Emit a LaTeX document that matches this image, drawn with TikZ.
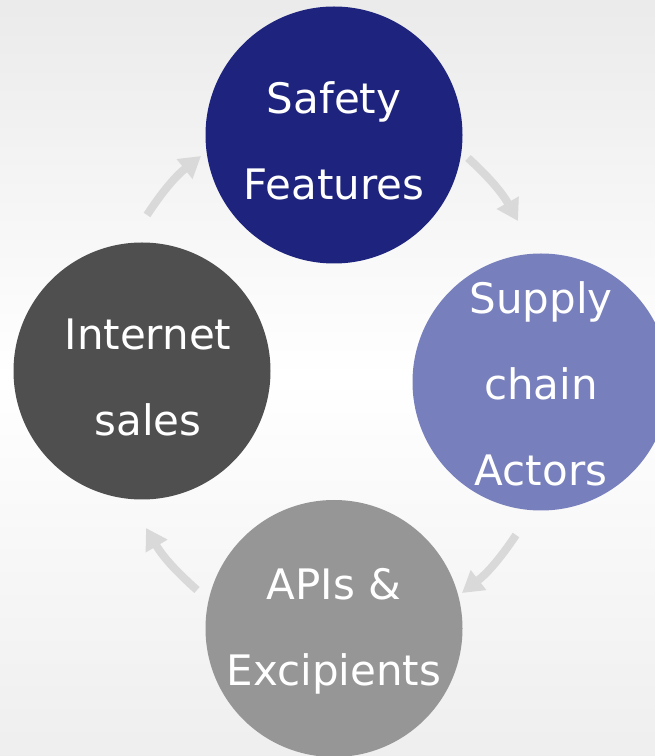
\documentclass[tikz,border=0pt]{standalone}
\usepackage{fontspec}
\setmainfont{DejaVu Sans}
\usetikzlibrary{arrows.meta,positioning}
\definecolor{navy}{HTML}{1E247D}
\definecolor{lavender}{HTML}{7780BC}
\definecolor{charcoal}{HTML}{4F4F4F}
\definecolor{midgray}{HTML}{969696}
\definecolor{arrowgray}{HTML}{D9D9D9}

\begin{document}
\begin{tikzpicture}[x=1pt,y=1pt,
    stage/.style={circle,minimum size=257pt,inner sep=0pt},
    caption/.style={text=white,align=center,inner sep=0pt,
      font=\fontsize{42}{86}\selectfont},
    cyc/.style={arrowgray,line width=8pt,-{Triangle[length=21pt,width=24pt]}}]
  % page: 655 x 756, light gray fading to white in the middle
  \useasboundingbox (0,0) rectangle (655,756);
  \shade[top color=gray!16,bottom color=white] (0,378) rectangle (655,756);
  \shade[top color=white,bottom color=gray!13] (0,0) rectangle (655,378);
  % the four stages, clockwise from the top
  \node[stage,fill=navy] (safety) at (334,621) {};
  \node[stage,fill=lavender] (supply) at (541,374) {};
  \node[stage,fill=midgray] (apis) at (334,127.5) {};
  \node[stage,fill=charcoal] (internet) at (142,385) {};
  \node[caption] (safety-txt) at ([yshift=-6]safety) {Safety\\Features};
  \node[caption] (supply-txt) at ([yshift=-2]supply) {Supply\\chain\\Actors};
  \node[caption] (apis-txt) at ([yshift=-3]apis) {APIs \&\\Excipients};
  \node[caption] (internet-txt) at ([xshift=6,yshift=-6]internet) {Internet\\sales};
  % arrow ends between neighbouring stages
  \coordinate (a1) at (147,541); \coordinate (b1) at (201,600);
  \coordinate (a2) at (468,598); \coordinate (b2) at (518,535);
  \coordinate (a3) at (516,221); \coordinate (b3) at (462,163);
  \coordinate (a4) at (197,166); \coordinate (b4) at (146,228);
  \draw[cyc] (a1) to[bend left=9] (b1);
  \draw[cyc] (a2) to[bend left=9] (b2);
  \draw[cyc] (a3) to[bend left=9] (b3);
  \draw[cyc] (a4) to[bend left=9] (b4);
\end{tikzpicture}
\end{document}
